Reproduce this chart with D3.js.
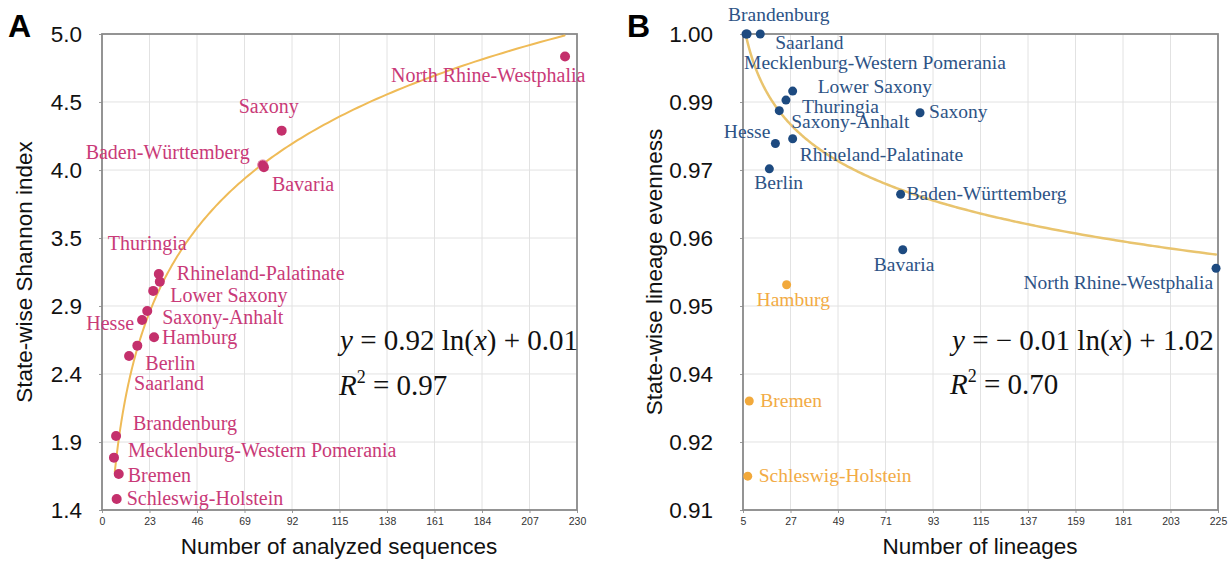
<!DOCTYPE html>
<html>
<head>
<meta charset="utf-8">
<script src="https://cdn.jsdelivr.net/npm/d3@7"></script>
<style>
  html, body { margin: 0; padding: 0; background: #fff; }
  svg { display: block; }
</style>
</head>
<body>
<svg id="chart" width="1228" height="562"></svg>
<script>
// ---------------- DATA ----------------
// Panel A: Shannon index vs number of analyzed sequences
const statesA = ["North Rhine-Westphalia", "Saxony", "Baden-Württemberg", "Bavaria", "Thuringia",
  "Rhineland-Palatinate", "Lower Saxony", "Saxony-Anhalt", "Hesse", "Hamburg", "Berlin", "Saarland",
  "Brandenburg", "Mecklenburg-Western Pomerania", "Bremen", "Schleswig-Holstein"];
const sequencesA = [224.2, 87.0, 77.8, 78.4, 27.5, 28.0, 24.8, 21.9, 19.4, 25.2, 17.1, 13.1, 6.8, 5.8, 8.1, 7.1];
const shannonA   = [4.83, 4.269, 4.01, 3.992, 3.185, 3.127, 3.057, 2.905, 2.837, 2.706, 2.643, 2.565, 1.96, 1.796, 1.672, 1.483];
const xTicksA = [0, 23, 46, 69, 92, 115, 138, 161, 184, 207, 230];
const yTicksA = [1.4, 1.914, 2.429, 2.943, 3.457, 3.971, 4.486, 5.0];
const yTickLabelsA = ["1.4", "1.9", "2.4", "2.9", "3.5", "4.0", "4.5", "5.0"];
const fitA = { a: 0.92, b: 0.01, from: 6.2, to: 224 };

// Panel B: lineage evenness vs number of lineages
const statesB = ["Brandenburg", "Saarland", "Mecklenburg-Western Pomerania", "Lower Saxony", "Thuringia",
  "Saxony-Anhalt", "Saxony", "Hesse", "Rhineland-Palatinate", "Berlin", "Baden-Württemberg", "Bavaria",
  "North Rhine-Westphalia", "Hamburg", "Bremen", "Schleswig-Holstein"];
const lineagesB = [6.4, 13.0, 6.9, 28.0, 24.9, 21.8, 87.0, 20.0, 28.0, 17.2, 78.0, 79.0, 224.1, 25.2, 7.9, 7.2];
const evennessB = [1.000, 1.000, 1.000, 0.9892, 0.9875, 0.9855, 0.9851, 0.9793, 0.9802, 0.9745, 0.9697, 0.9592, 0.9557, 0.9526, 0.9306, 0.9164];
const groupB    = ["main", "main", "main", "main", "main", "main", "main", "main", "main", "main", "main", "main", "main", "low", "low", "low"];
const xTicksB = [5, 27, 49, 71, 93, 115, 137, 159, 181, 203, 225];
const yTicksB = [0.91, 0.92286, 0.93571, 0.94857, 0.96143, 0.97429, 0.98714, 1.00];
const yTickLabelsB = ["0.91", "0.92", "0.94", "0.95", "0.96", "0.97", "0.99", "1.00"];
const fitB = { a: -0.01163, b: 1.02124, from: 6.2, to: 224 };

// ---------------- LAYOUT (label offsets relative to points) ----------------
const labelLayoutA = {
  "North Rhine-Westphalia": [-174, 26, "start"],
  "Saxony": [-43, -18, "start"],
  "Baden-Württemberg": [-13, -6, "end"],
  "Bavaria": [8, 24, "start"],
  "Thuringia": [-51, -24, "start"],
  "Rhineland-Palatinate": [17, -2, "start"],
  "Lower Saxony": [17, 11, "start"],
  "Saxony-Anhalt": [15, 13, "start"],
  "Hesse": [-8, 10, "end"],
  "Hamburg": [8, 7, "start"],
  "Berlin": [8, 24, "start"],
  "Saarland": [5, 34, "start"],
  "Brandenburg": [17, -6, "start"],
  "Mecklenburg-Western Pomerania": [14, -1, "start"],
  "Bremen": [9, 8, "start"],
  "Schleswig-Holstein": [10, 6, "start"]
};
const labelLayoutB = {
  "Brandenburg": [-18, -13, "start"],
  "Saarland": [15, 15, "start"],
  "Mecklenburg-Western Pomerania": [-3, 35, "start"],
  "Lower Saxony": [25, 2, "start"],
  "Thuringia": [16, 13, "start"],
  "Saxony-Anhalt": [12, 17, "start"],
  "Saxony": [9, 5, "start"],
  "Hesse": [-5, -5, "end"],
  "Rhineland-Palatinate": [7, 22, "start"],
  "Berlin": [-15, 20, "start"],
  "Baden-Württemberg": [6, 6, "start"],
  "Bavaria": [-29, 21, "start"],
  "North Rhine-Westphalia": [-3, 21, "end"],
  "Hamburg": [-30, 21, "start"],
  "Bremen": [11, 6, "start"],
  "Schleswig-Holstein": [11, 6, "start"]
};

const svg = d3.select("#chart");
const SANS = "'Liberation Sans', Arial, Helvetica, sans-serif";
const SERIF = "'Liberation Serif', 'Times New Roman', serif";

function panel(opts) {
  const { x, y, xTicks, yTicks, yTickLabels, letter, letterX, yTitle, yTitleX, xTitle, xTitleX, yLabelGap } = opts;
  const g = svg.append("g");
  const [x0, x1] = x.range();
  const [y0, y1] = y.range();

  // grid
  g.append("g").selectAll("line").data(xTicks).join("line")
    .attr("x1", d => x(d)).attr("x2", d => x(d)).attr("y1", y0).attr("y2", y1)
    .attr("stroke", "#e2e2e2").attr("stroke-width", 1);
  g.append("g").selectAll("line").data(yTicks).join("line")
    .attr("x1", x0).attr("x2", x1).attr("y1", d => y(d)).attr("y2", d => y(d))
    .attr("stroke", "#e2e2e2").attr("stroke-width", 1);

  // axes
  const xa = g.append("g").attr("transform", `translate(0,${y0})`)
    .call(d3.axisBottom(x).tickValues(xTicks).tickSize(3).tickSizeOuter(0).tickFormat(d3.format("d")));
  xa.select(".domain").remove();
  xa.selectAll("line").attr("stroke", "#999");
  xa.selectAll("text").attr("font-family", SANS).attr("font-size", 10.5).attr("fill", "#333").attr("dy", "0.9em");

  const ya = g.append("g").attr("transform", `translate(${x0},0)`)
    .call(d3.axisLeft(y).tickValues(yTicks).tickSize(3).tickSizeOuter(0).tickPadding(yLabelGap)
      .tickFormat((d, i) => yTickLabels[i]));
  ya.select(".domain").remove();
  ya.selectAll("line").attr("stroke", "#999");
  ya.selectAll("text").attr("font-family", SANS).attr("font-size", 22.5).attr("fill", "#111");

  // frame
  g.append("rect").attr("x", x0).attr("y", y1).attr("width", x1 - x0).attr("height", y0 - y1)
    .attr("fill", "none").attr("stroke", "#8a8a8a").attr("stroke-width", 1.8);

  // titles
  g.append("text").attr("x", letterX).attr("y", 37).text(letter)
    .attr("font-family", SANS).attr("font-weight", "bold").attr("font-size", 32).attr("fill", "#000");
  g.append("text").attr("transform", `translate(${yTitleX},272) rotate(-90)`).attr("text-anchor", "middle")
    .attr("font-family", SANS).attr("font-size", 22.5).attr("fill", "#111").text(yTitle);
  g.append("text").attr("x", xTitleX).attr("y", 554).attr("text-anchor", "middle")
    .attr("font-family", SANS).attr("font-size", 22.5).attr("fill", "#111").text(xTitle);
  return g;
}

function fitLine(g, x, y, fit, color, width) {
  const pts = d3.range(0, 201).map(i => {
    const xv = fit.from * Math.pow(fit.to / fit.from, i / 200);
    return [xv, fit.a * Math.log(xv) + fit.b];
  });
  g.append("path").datum(pts)
    .attr("d", d3.line().x(d => x(d[0])).y(d => y(d[1])).curve(d3.curveMonotoneX))
    .attr("fill", "none").attr("stroke", color).attr("stroke-width", width).attr("stroke-linecap", "round");
}

function equation(g, xPos, yPos, parts) {
  const t = g.append("text").attr("x", xPos).attr("y", yPos)
    .attr("font-family", SERIF).attr("font-size", 29).attr("fill", "#111");
  parts.forEach(p => {
    const s = t.append("tspan").text(p.t);
    if (p.i) s.attr("font-style", "italic");
    if (p.sup) s.attr("font-size", 18).attr("dy", -12);
    if (p.down) s.attr("dy", 12);
  });
}

// ---------------- PANEL A ----------------
const xA = d3.scaleLinear().domain([0, 230]).range([102, 577]);
const yA = d3.scaleLinear().domain([1.4, 5.0]).range([510, 34]);
const gA = panel({ x: xA, y: yA, xTicks: xTicksA, yTicks: yTicksA, yTickLabels: yTickLabelsA,
  letter: "A", letterX: 8, yTitle: "State-wise Shannon index", yTitleX: 32,
  xTitle: "Number of analyzed sequences", xTitleX: 339, yLabelGap: 17 });

fitLine(gA, xA, yA, fitA, "#efbb57", 2);

const dataA = statesA.map((s, i) => ({ s, x: sequencesA[i], y: shannonA[i] }));
gA.append("g").selectAll("circle").data(dataA).join("circle")
  .attr("cx", d => xA(d.x)).attr("cy", d => yA(d.y)).attr("r", 5)
  .attr("fill", "#c4306c")
  .attr("stroke", d => d.s === "Baden-Württemberg" ? "#e58aa9" : "none").attr("stroke-width", 1);
gA.append("g").selectAll("text").data(dataA).join("text")
  .attr("x", d => xA(d.x) + labelLayoutA[d.s][0])
  .attr("y", d => yA(d.y) + labelLayoutA[d.s][1])
  .attr("text-anchor", d => labelLayoutA[d.s][2])
  .attr("font-family", SERIF).attr("font-size", 20).attr("fill", "#c93a78")
  .text(d => d.s);

equation(gA, 340, 350, [{ t: "y", i: true }, { t: " = 0.92 ln(" }, { t: "x", i: true }, { t: ") + 0.01" }]);
equation(gA, 339, 395, [{ t: "R", i: true }, { t: "2", sup: true }, { t: " = 0.97", down: true }]);

// ---------------- PANEL B ----------------
const xB = d3.scaleLinear().domain([5, 225]).range([743, 1218]);
const yB = d3.scaleLinear().domain([0.91, 1.00]).range([510, 34]);
const gB = panel({ x: xB, y: yB, xTicks: xTicksB, yTicks: yTicksB, yTickLabels: yTickLabelsB,
  letter: "B", letterX: 627, yTitle: "State-wise lineage evenness", yTitleX: 662,
  xTitle: "Number of lineages", xTitleX: 980, yLabelGap: 27 });

fitLine(gB, xB, yB, fitB, "#e9c46e", 2.5);

const colorB = { main: "#1d4a80", low: "#f2a93b" };
const labelColorB = { main: "#2d5386", low: "#f2ab45" };
const dataB = statesB.map((s, i) => ({ s, x: lineagesB[i], y: evennessB[i], g: groupB[i] }));
gB.append("g").selectAll("circle").data(dataB).join("circle")
  .attr("cx", d => xB(d.x)).attr("cy", d => yB(d.y)).attr("r", 4.5)
  .attr("fill", d => colorB[d.g]);
gB.append("g").selectAll("text").data(dataB).join("text")
  .attr("x", d => xB(d.x) + labelLayoutB[d.s][0])
  .attr("y", d => yB(d.y) + labelLayoutB[d.s][1])
  .attr("text-anchor", d => labelLayoutB[d.s][2])
  .attr("font-family", SERIF).attr("font-size", 19.5).attr("fill", d => labelColorB[d.g])
  .text(d => d.s);

equation(gB, 952, 350, [{ t: "y", i: true }, { t: " = − 0.01 ln(" }, { t: "x", i: true }, { t: ") + 1.02" }]);
equation(gB, 950, 394, [{ t: "R", i: true }, { t: "2", sup: true }, { t: " = 0.70", down: true }]);
</script>
</body>
</html>
